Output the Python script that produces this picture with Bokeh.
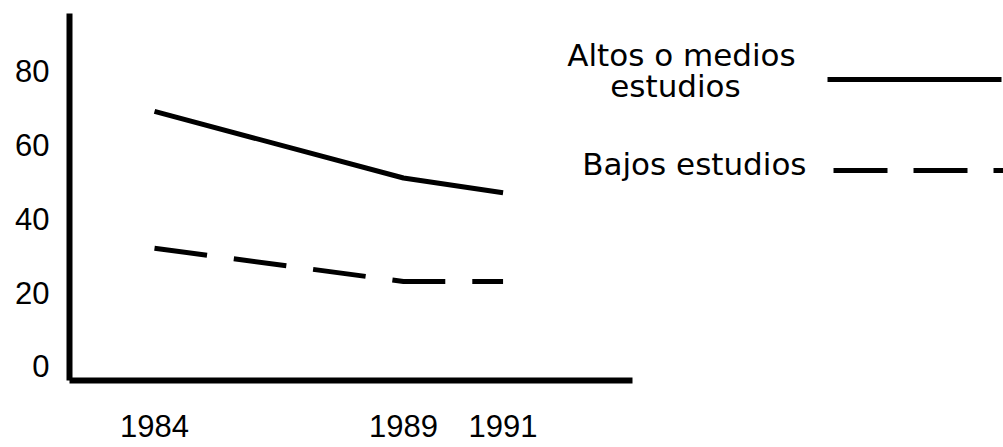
from bokeh.plotting import figure
from bokeh.models import Range1d, FixedTicker, Label, Arrow
from bokeh.embed import file_html
from bokeh.resources import INLINE

# ---- data ----
years = [1984, 1989, 1991]
altos_medios = [69, 51, 47]
bajos = [32, 23, 23]
y_ticks = [0, 20, 40, 60, 80]
series_names = ["Altos o medios\nestudios", "Bajos estudios"]

X0, X1 = 1982.293, 2001.05
p = figure(width=1003, height=447, output_backend="svg", toolbar_location=None,
           x_range=Range1d(X0, X1), y_range=Range1d(-3.8, 95.5),
           min_border_left=69, min_border_right=0, min_border_top=13,
           min_border_bottom=67)
p.outline_line_color = None
p.grid.visible = False
p.background_fill_color = "white"
p.border_fill_color = "white"

r1 = p.line(years, altos_medios, line_color="black", line_width=5)
r2 = p.line(years, bajos, line_color="black", line_width=5, line_dash="53 27")

xa = p.xaxis[0]
xa.ticker = FixedTicker(ticks=years)
xa.bounds = (X0, 1993.6)
xa.axis_line_width = 6
xa.axis_line_color = "black"
xa.major_tick_line_color = None
xa.minor_tick_line_color = None
xa.major_tick_out = 0
xa.major_tick_in = 0
xa.major_label_standoff = 34
xa.major_label_text_font = "Liberation Sans"
xa.major_label_text_font_size = "31px"
xa.major_label_text_color = "black"

ya = p.yaxis[0]
ya.ticker = FixedTicker(ticks=y_ticks)
ya.axis_line_width = 6
ya.axis_line_color = "black"
ya.major_tick_line_color = None
ya.minor_tick_line_color = None
ya.major_tick_out = 0
ya.major_tick_in = 0
ya.major_label_standoff = 20
ya.major_label_text_font = "Liberation Sans"
ya.major_label_text_font_size = "31px"
ya.major_label_text_color = "black"

# ---- legend (text left of the key line, as in the original) ----
txt = dict(x_units="canvas", y_units="canvas", text_font="DejaVu Sans",
           text_font_size="31px", text_color="black", text_baseline="alphabetic")
l1a, l1b = series_names[0].split("\n")
p.add_layout(Label(x=681, y=54, text=l1a, text_align="center", **txt))
p.add_layout(Label(x=675, y=85, text=l1b, text_align="center", **txt))
p.add_layout(Label(x=806, y=163, text=series_names[1], text_align="right", **txt))

key = dict(start_units="canvas", end_units="canvas", start=None, end=None,
           line_color="black", line_width=5)
p.add_layout(Arrow(x_start=827, y_start=79, x_end=1001, y_end=79, **key))
p.add_layout(Arrow(x_start=833, y_start=170, x_end=1003, y_end=170,
                   line_dash="54 26", **key))

open("out.html", "w").write(file_html(p, INLINE))
